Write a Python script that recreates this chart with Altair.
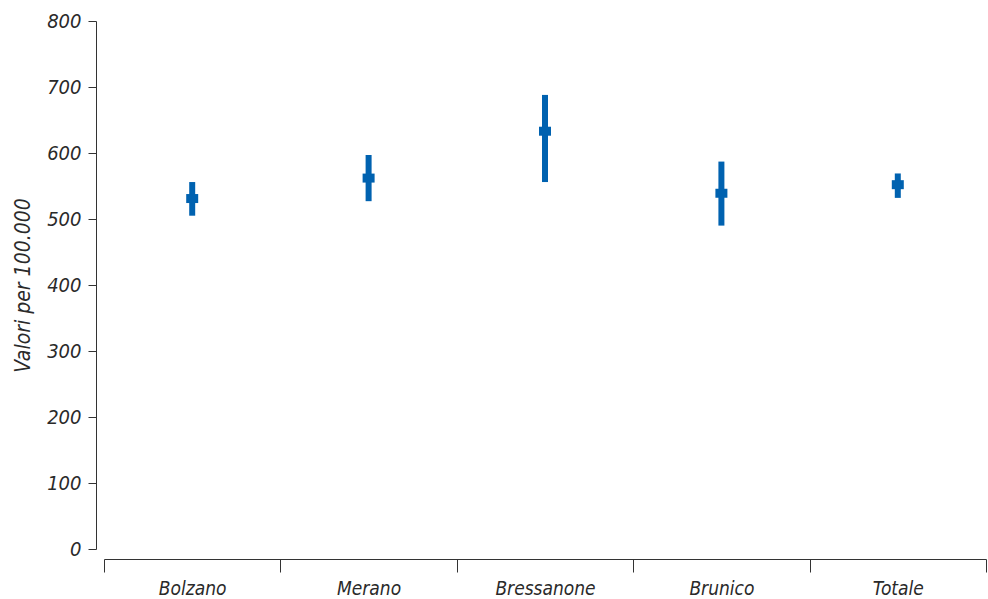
import altair as alt
import pandas as pd

# Rates per 100,000 with 95% confidence interval, by district
districts = ["Bolzano", "Merano", "Bressanone", "Brunico", "Totale"]
rate = [531, 562, 633, 539, 552]
ci_low = [505, 527, 556, 490, 532]
ci_high = [556, 597, 688, 587, 569]

df = pd.DataFrame({"area": districts, "rate": rate, "low": ci_low, "high": ci_high})

blue = "#0062B0"
axis_grey = "#333333"
text_col = "#2a2a2a"
font = "DejaVu Sans Condensed, Liberation Sans Narrow, Liberation Sans"

x_enc = alt.X(
    "area:N",
    sort=districts,
    scale=alt.Scale(type="band", paddingInner=0, paddingOuter=0),
    axis=alt.Axis(
        title=None,
        tickBand="extent",
        offset=10,
        tickSize=13,
        domainColor=axis_grey,
        tickColor=axis_grey,
        domainWidth=1,
        tickWidth=1,
        labelPadding=7,
        labelFont=font,
        labelFontSize=19,
        labelFontStyle="italic",
        labelColor=text_col,
        labelAngle=0,
    ),
)

y_scale = alt.Scale(domain=[0, 800], nice=False, zero=True)

ci = alt.Chart(df).mark_rule(color=blue, strokeWidth=6).encode(
    x=x_enc,
    y=alt.Y(
        "low:Q",
        scale=y_scale,
        axis=alt.Axis(
            title="Valori per 100.000",
            values=list(range(0, 801, 100)),
            grid=False,
            offset=8,
            tickSize=8,
            domainColor=axis_grey,
            tickColor=axis_grey,
            labelPadding=7,
            labelFont=font,
            labelFontSize=20,
            labelFontStyle="italic",
            labelColor=text_col,
            titleFont=font,
            titleFontSize=21,
            titleFontStyle="italic",
            titleFontWeight="normal",
            titleColor=text_col,
            titlePadding=13,
        ),
    ),
    y2="high:Q",
)

center = alt.Chart(df).mark_tick(color=blue, size=12, thickness=9, opacity=1).encode(
    x=alt.X("area:N", sort=districts),
    y=alt.Y("rate:Q", scale=y_scale),
)

chart = (
    alt.layer(ci, center)
    .properties(
        width=882,
        height=528,
        background="white",
        autosize=alt.AutoSizeParams(type="none"),
        padding={"left": 104, "top": 21, "right": 2, "bottom": 50},
    )
    .configure_view(stroke=None)
)

chart.save("out.html", embed_options={"renderer": "svg", "actions": False})
